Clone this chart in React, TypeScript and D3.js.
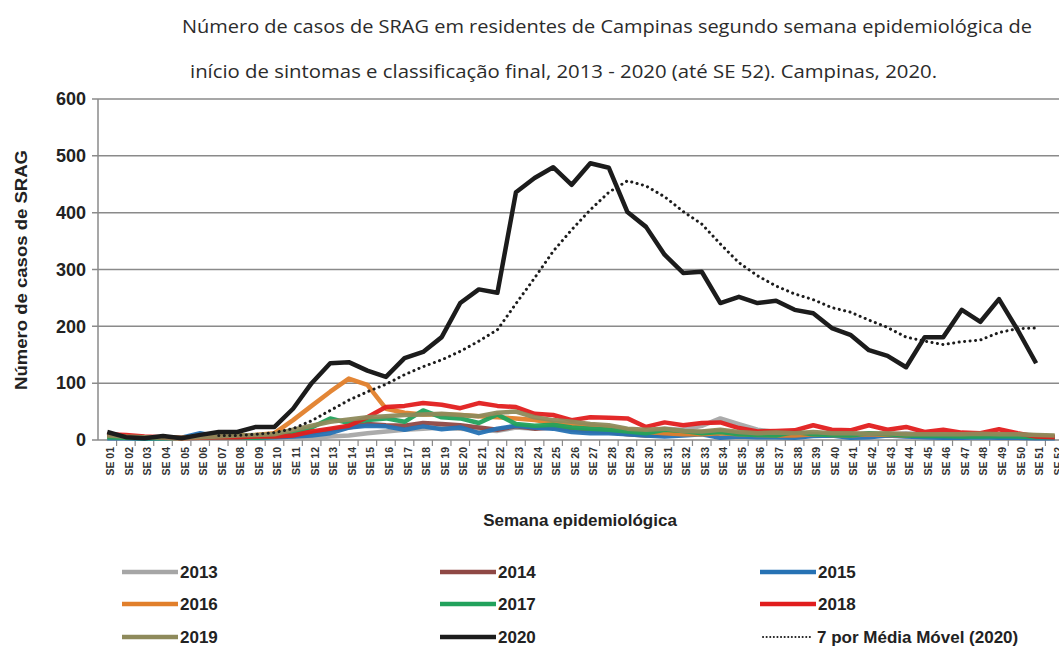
import React, { useEffect, useRef } from "react";
import * as d3 from "d3";

// categories
const weeks = [
  "SE 01", "SE 02", "SE 03", "SE 04", "SE 05", "SE 06", "SE 07", "SE 08", "SE 09", "SE 10",
  "SE 11", "SE 12", "SE 13", "SE 14", "SE 15", "SE 16", "SE 17", "SE 18", "SE 19", "SE 20",
  "SE 21", "SE 22", "SE 23", "SE 24", "SE 25", "SE 26", "SE 27", "SE 28", "SE 29", "SE 30",
  "SE 31", "SE 32", "SE 33", "SE 34", "SE 35", "SE 36", "SE 37", "SE 38", "SE 39", "SE 40",
  "SE 41", "SE 42", "SE 43", "SE 44", "SE 45", "SE 46", "SE 47", "SE 48", "SE 49", "SE 50",
  "SE 51", "SE 52",
];
const yTicks = [0, 100, 200, 300, 400, 500, 600];

// series (cases per epidemiological week)
const cases2013 = [5, 4, 3, 3, 2, 3, 4, 3, 3, 4, 3, 4, 6, 8, 12, 15, 18, 20, 22, 20, 18, 16, 22, 20, 25, 22, 20, 18, 15, 14, 20, 18, 25, 38, 28, 18, 14, 12, 10, 12, 10, 12, 10, 12, 10, 10, 8, 8, 9, 10, 8, 6];
const cases2014 = [8, 6, 4, 4, 3, 4, 5, 5, 6, 6, 8, 12, 18, 22, 28, 26, 25, 30, 28, 26, 22, 18, 24, 20, 22, 18, 16, 14, 10, 8, 10, 12, 14, 16, 12, 10, 8, 8, 10, 9, 8, 10, 8, 7, 8, 6, 7, 8, 6, 7, 6, 5];
const cases2015 = [3, 3, 2, 3, 4, 12, 6, 5, 4, 5, 6, 8, 12, 22, 25, 24, 18, 24, 19, 22, 12, 20, 25, 22, 20, 14, 12, 12, 10, 8, 6, 8, 10, 4, 6, 5, 5, 4, 7, 8, 4, 5, 8, 6, 5, 4, 4, 5, 4, 4, 3, 3];
const cases2016 = [6, 5, 4, 4, 3, 5, 6, 8, 9, 12, 35, 60, 85, 108, 97, 55, 48, 45, 45, 44, 42, 40, 38, 35, 30, 28, 26, 22, 18, 14, 12, 10, 10, 12, 10, 9, 8, 8, 10, 9, 8, 10, 9, 8, 10, 9, 8, 9, 10, 9, 8, 6];
const cases2017 = [5, 4, 3, 3, 4, 6, 5, 5, 4, 6, 12, 22, 38, 30, 35, 38, 32, 52, 40, 38, 30, 45, 28, 25, 27, 22, 20, 18, 15, 12, 18, 16, 12, 14, 10, 9, 8, 14, 10, 9, 8, 12, 10, 8, 7, 7, 6, 6, 7, 6, 5, 5];
const cases2018 = [10, 9, 6, 5, 4, 5, 5, 5, 6, 6, 8, 15, 20, 25, 40, 58, 60, 65, 62, 56, 65, 60, 58, 46, 44, 35, 40, 39, 38, 23, 31, 26, 30, 31, 21, 15, 16, 17, 26, 18, 17, 26, 18, 23, 14, 18, 13, 12, 19, 12, 6, 5];
const cases2019 = [8, 6, 5, 5, 4, 5, 6, 8, 9, 10, 18, 25, 32, 36, 40, 42, 44, 45, 46, 44, 42, 48, 50, 40, 35, 32, 28, 26, 20, 18, 20, 16, 15, 18, 14, 12, 13, 12, 14, 12, 12, 11, 12, 10, 10, 10, 10, 11, 10, 10, 9, 8];
const cases2020 = [14, 5, 3, 7, 3, 9, 14, 14, 23, 23, 55, 100, 135, 137, 122, 111, 144, 155, 181, 241, 265, 259, 436, 461, 480, 449, 487, 479, 401, 375, 326, 294, 296, 241, 252, 241, 245, 229, 223, 197, 185, 158, 148, 128, 181, 181, 229, 208, 248, 194, 135];
const movingAvg2020 = [null, null, null, null, null, null, 8, 8, 10, 13, 20, 34, 52, 70, 85, 98, 115, 129, 141, 156, 174, 194, 240, 285, 332, 370, 405, 436, 456, 447, 428, 402, 380, 345, 312, 289, 271, 257, 247, 233, 225, 211, 198, 181, 174, 168, 173, 176, 189, 196, 197];

const years = ["2013", "2014", "2015", "2016", "2017", "2018", "2019", "2020"];
const yearSeries = [cases2013, cases2014, cases2015, cases2016, cases2017, cases2018, cases2019, cases2020];
const yearColors = ["#a6a6a6", "#8f4845", "#2672b4", "#e17f2b", "#22a25c", "#e11d1d", "#8e8a5b", "#1c1c1c"];
const maLabel = "7 por Média Móvel (2020)";

const App = () => {
  const ref = useRef<SVGSVGElement>(null);

  useEffect(() => {
    const svg = d3.select(ref.current);
    svg.selectAll("*").remove();

    const x = d3.scaleBand().domain(weeks).range([98, 1064]).paddingInner(0);
    const y = d3.scaleLinear().domain([0, 600]).range([440, 99]);
    const cx = (i: number) => (x(weeks[i]) as number) + x.bandwidth() / 2;

    // title
    const title = svg.append("g").attr("font-family", "'Open Sans', sans-serif").attr("fill", "#2b2b2b");
    title.append("text").attr("x", 182).attr("y", 33).attr("font-size", 17.5)
      .attr("textLength", 850).attr("lengthAdjust", "spacingAndGlyphs")
      .text("Número de casos de SRAG em residentes de Campinas segundo semana epidemiológica de");
    title.append("text").attr("x", 190).attr("y", 78).attr("font-size", 17.5)
      .attr("textLength", 747).attr("lengthAdjust", "spacingAndGlyphs")
      .text("início de sintomas e classificação final, 2013 - 2020 (até SE 52). Campinas, 2020.");

    // gridlines + y ticks
    const grid = svg.append("g");
    grid.selectAll("line.grid").data(yTicks).enter().append("line")
      .attr("x1", 92).attr("x2", 1059)
      .attr("y1", (d) => y(d)).attr("y2", (d) => y(d))
      .attr("stroke", "#8a8a8a").attr("stroke-width", 1.5);
    grid.append("line").attr("x1", 98).attr("x2", 98).attr("y1", y(600)).attr("y2", y(0))
      .attr("stroke", "#8a8a8a").attr("stroke-width", 1.5);
    grid.selectAll("text").data(yTicks).enter().append("text")
      .attr("x", 86).attr("y", (d) => y(d)).attr("dy", "0.35em")
      .attr("text-anchor", "end").attr("font-family", "Arial, 'Liberation Sans', sans-serif")
      .attr("font-weight", "bold").attr("font-size", 18).attr("fill", "#222")
      .text((d) => d);

    // x ticks (between categories)
    grid.selectAll("line.xt").data(weeks).enter().append("line")
      .attr("x1", (d) => (x(d) as number) + x.bandwidth()).attr("x2", (d) => (x(d) as number) + x.bandwidth())
      .attr("y1", 440).attr("y2", 446).attr("stroke", "#8a8a8a").attr("stroke-width", 1.2);
    grid.selectAll("text.xl").data(weeks).enter().append("text")
      .attr("transform", (d) => `translate(${(x(d) as number) + x.bandwidth() / 2 + 7},447) rotate(-90)`)
      .attr("text-anchor", "end").attr("font-family", "Arial, 'Liberation Sans', sans-serif")
      .attr("font-weight", "bold").attr("font-size", 10.5).attr("fill", "#333")
      .text((d) => d);

    // axis titles
    svg.append("text")
      .attr("transform", "translate(27,270) rotate(-90)")
      .attr("text-anchor", "middle").attr("font-family", "Arial, 'Liberation Sans', sans-serif")
      .attr("font-weight", "bold").attr("font-size", 16).attr("fill", "#222")
      .attr("textLength", 240).attr("lengthAdjust", "spacingAndGlyphs")
      .text("Número de casos de SRAG");
    svg.append("text")
      .attr("x", 580).attr("y", 526)
      .attr("text-anchor", "middle").attr("font-family", "Arial, 'Liberation Sans', sans-serif")
      .attr("font-weight", "bold").attr("font-size", 17).attr("fill", "#222")
      .text("Semana epidemiológica");

    // lines
    const line = d3.line<number | null>()
      .defined((d) => d != null)
      .x((d, i) => cx(i))
      .y((d) => y(d as number));

    yearSeries.forEach((s, k) => {
      svg.append("path").datum(s).attr("d", line)
        .attr("fill", "none").attr("stroke", yearColors[k])
        .attr("stroke-width", k === 7 ? 4.5 : 4.5)
        .attr("stroke-linejoin", "round").attr("stroke-opacity", k === 7 ? 1 : 0.95);
    });
    svg.append("path").datum(movingAvg2020).attr("d", line)
      .attr("fill", "none").attr("stroke", "#1c1c1c").attr("stroke-width", 3)
      .attr("stroke-dasharray", "0.1 5.4").attr("stroke-linecap", "round");

    // legend
    const colX = [122, 440, 760];
    const rowY = [572, 604, 637];
    const legend = svg.append("g").attr("font-family", "Arial, 'Liberation Sans', sans-serif")
      .attr("font-weight", "bold").attr("font-size", 17).attr("fill", "#222");
    years.forEach((yr, k) => {
      const lx = colX[k % 3];
      const ly = rowY[Math.floor(k / 3)];
      legend.append("line").attr("x1", lx).attr("x2", lx + 56).attr("y1", ly).attr("y2", ly)
        .attr("stroke", yearColors[k]).attr("stroke-width", 4.5);
      legend.append("text").attr("x", lx + 58).attr("y", ly).attr("dy", "0.36em").text(yr);
    });
    legend.append("line").attr("x1", colX[2] + 3).attr("x2", colX[2] + 52).attr("y1", rowY[2]).attr("y2", rowY[2])
      .attr("stroke", "#1c1c1c").attr("stroke-width", 2).attr("stroke-dasharray", "0.1 3.5").attr("stroke-linecap", "round");
    legend.append("text").attr("x", colX[2] + 57).attr("y", rowY[2]).attr("dy", "0.36em").text(maLabel);
  }, []);

  return (
    <svg
      ref={ref}
      width={1059}
      height={648}
      style={{ position: "absolute", left: 0, top: 0, background: "#fff" }}
    />
  );
};

export default App;
